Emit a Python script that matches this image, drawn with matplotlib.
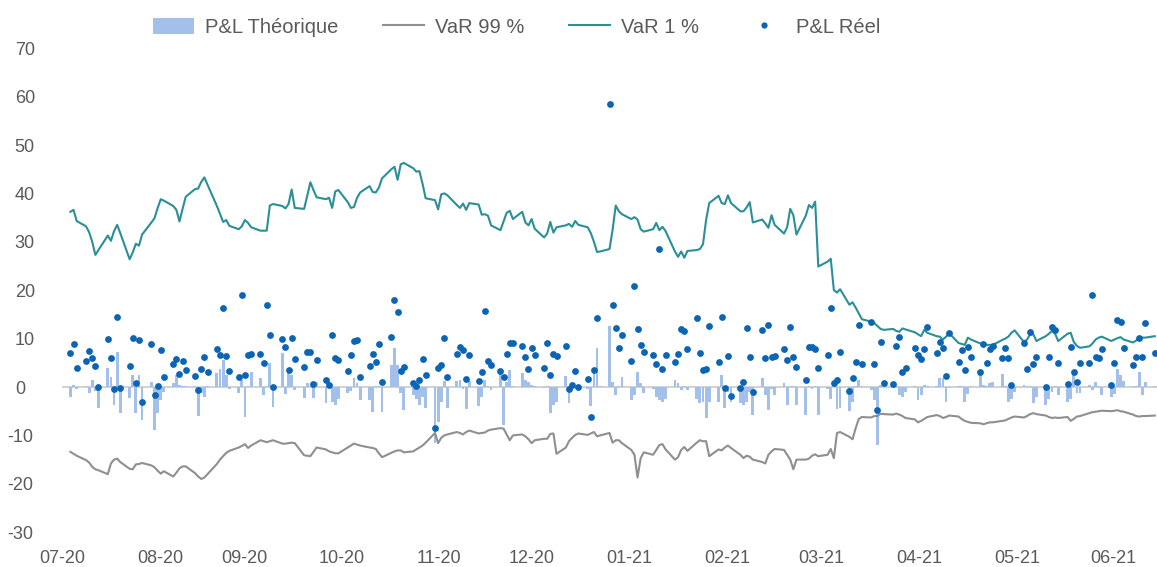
import numpy as np
import pandas as pd
import matplotlib
matplotlib.use("Agg")
import matplotlib.pyplot as plt
import matplotlib.dates as mdates
from matplotlib.lines import Line2D
from matplotlib.patches import Patch
from matplotlib.legend_handler import HandlerLine2D
from matplotlib.transforms import ScaledTranslation

# ---------------- data (business days, 2020-07-01 .. 2021-06-14) ----------------
dates = pd.bdate_range("2020-07-01", "2021-06-14")

var_1 = [
    36.2, 36.6, 34.3,
    33.2, 32.0, 30.0, 27.3, 28.3,
    31.3, 30.2, 32.2, 33.5, 31.8,
    26.4, 27.8, 29.6, 29.2, 31.5,
    34.0, 34.9, 37.0, 38.8, 38.5,
    37.4, 36.6, 34.2, 36.8, 39.3,
    40.9, 41.0, 42.4, 43.3, 41.8,
    37.4, 35.8, 34.1, 34.5, 33.3,
    32.6, 33.2, 34.5, 33.9, 33.0,
    32.3, 32.3, 32.3, 37.5, 37.8,
    37.4, 36.9, 37.8, 40.8, 37.0,
    36.8, 39.5, 42.3, 40.7, 39.2,
    38.8, 39.1, 37.0, 40.4, 40.7,
    38.2, 37.0, 37.2, 39.1, 40.2,
    41.5, 40.3, 40.2, 41.2, 43.1,
    45.0, 45.5, 42.8, 46.0, 46.3,
    45.2, 44.5, 44.6, 42.0, 39.0,
    38.6, 36.7, 39.8, 40.0, 39.6,
    37.6, 37.0, 37.9, 36.6, 38.0,
    37.7, 35.6, 35.7, 35.4, 33.4,
    32.4, 34.2, 36.0, 36.4, 34.7,
    36.2, 34.0, 33.4, 34.7, 32.7,
    30.9, 31.7, 34.1, 31.9, 33.0,
    33.4, 33.7, 33.1, 34.3, 33.5,
    33.0, 31.8, 30.0, 27.9, 28.0,
    28.5, 32.5, 37.5, 36.3, 35.7,
    34.7, 35.1, 34.6, 32.6, 32.1,
    32.6, 33.9, 32.4, 33.1, 32.2,
    28.0, 26.9, 28.0, 26.7, 28.1,
    28.3, 28.5, 29.5, 34.5, 38.0,
    39.5, 38.0, 37.8, 39.6, 38.0,
    36.3, 36.3, 37.1, 38.2, 34.0,
    34.6, 33.8, 32.9, 35.5, 33.5,
    31.7, 33.0, 36.8, 35.5, 31.5,
    35.4, 37.6, 37.0, 38.3, 24.9,
    25.9, 26.5, 20.0, 19.5, 20.2,
    17.0, 17.5, 16.4, 15.2, 14.0,
    13.5, 13.2, 12.6, 12.0, 11.8,
    12.0, 11.6, 11.4, 12.1, 11.9,
    11.3, 10.9, 10.5, 11.8, 11.2,
    10.5, 10.4, 9.8, 10.4, 11.1,
    9.1, 8.9, 8.7, 10.2, 9.8,
    9.0, 8.8, 8.7, 8.7, 8.7,
    9.7, 10.0, 10.4, 11.2, 11.7,
    9.3, 9.8, 10.9, 10.9, 9.5,
    10.5, 11.0, 11.6, 11.0, 9.5,
    11.0, 11.2, 9.3, 8.5, 8.1,
    8.4, 9.0, 9.8, 10.2, 10.4,
    9.5, 9.8, 10.1, 10.3, 9.8,
    9.2, 9.6, 10.0, 10.2, 10.2,
    10.5,
]

var_99 = [
    -13.4, -13.8, -14.2,
    -15.1, -15.6, -16.5, -17.0, -17.2,
    -18.0, -15.8, -15.0, -14.8, -15.5,
    -16.9, -17.0, -16.0, -15.9, -15.7,
    -16.2, -16.6, -17.3, -17.9, -17.4,
    -18.5, -17.7, -16.8, -16.4, -16.4,
    -17.8, -18.5, -19.0, -18.7, -18.0,
    -15.9, -15.0, -14.3, -13.6, -13.2,
    -12.5, -12.2, -11.8, -12.6, -12.1,
    -11.0, -11.2, -11.4, -11.2, -11.0,
    -11.7, -11.7, -11.6, -11.5, -11.6,
    -14.1, -14.2, -14.3, -13.4, -12.5,
    -12.9, -13.3, -13.5, -13.7, -13.7,
    -12.5, -12.1, -11.7, -11.9, -12.1,
    -12.5, -12.6, -12.8, -13.7, -14.5,
    -13.6, -13.3, -13.1, -13.1, -13.5,
    -13.3, -12.9, -12.5, -12.1, -11.5,
    -9.5, -11.6, -10.5, -10.0, -9.8,
    -9.3, -9.5, -9.8, -9.3, -9.0,
    -9.6, -9.5, -9.4, -9.0, -8.8,
    -8.5, -8.6, -9.8, -11.0, -10.0,
    -9.8, -10.2, -10.8, -11.6, -11.0,
    -10.7, -10.7, -9.7, -9.6, -13.8,
    -12.5, -11.2, -10.5, -9.9, -9.6,
    -9.9, -9.6, -9.3, -10.2, -10.0,
    -9.5, -11.5, -11.0, -11.0, -11.6,
    -13.0, -14.0, -18.7, -14.7, -13.5,
    -14.0, -13.0, -12.0, -11.8, -12.9,
    -15.0, -14.5, -13.0, -12.4, -13.2,
    -11.5, -11.0, -11.2, -11.2, -14.3,
    -12.9, -13.1, -12.5, -12.1, -12.6,
    -14.0, -14.7, -14.2, -14.4, -15.0,
    -15.5, -15.8, -14.0, -13.3, -12.8,
    -13.0, -14.0, -15.0, -17.0, -15.0,
    -15.0, -14.8, -14.2, -13.9, -14.3,
    -14.0, -12.8, -14.7, -9.5, -9.3,
    -10.3, -10.8, -8.5, -6.6, -6.2,
    -6.3, -6.0, -6.0, -5.5, -5.6,
    -5.7, -5.5, -5.7, -6.0, -6.4,
    -6.7, -7.3, -7.0, -6.6, -6.2,
    -5.8, -6.0, -6.4, -6.2, -5.9,
    -6.1, -6.6, -7.0, -7.2, -7.4,
    -7.5, -7.7, -7.5, -7.3, -7.3,
    -7.0, -6.9, -6.6, -6.3, -6.1,
    -6.3, -6.0, -5.6, -5.4, -5.6,
    -5.9, -6.2, -6.4, -6.3, -6.4,
    -6.2, -7.0, -6.6, -6.1, -6.0,
    -5.4, -5.2, -5.1, -5.0, -4.9,
    -5.0, -4.9, -4.8, -5.0, -5.1,
    -5.7, -6.0, -6.1, -6.0, -6.0,
    -5.9,
]

pnl_reel = [
    7.1, 8.9, 3.9,
    5.4, 7.4, 6.0, 4.3, 0.0,
    10.0, 5.9, -0.4, 14.4, -0.2,
    4.3, 10.2, 0.8, 9.7, -3.2,
    8.9, -1.7, 0.2, 7.6, 2.0,
    4.7, 5.8, 2.7, 5.4, 3.5,
    2.3, -0.6, 3.7, 6.1, 3.2,
    7.8, 6.6, 16.4, 6.5, 3.4,
    2.0, 19.1, 2.4, 6.7, 6.8,
    6.9, 5.0, 16.9, 10.7, 0.0,
    10.0, 8.3, 3.5, 10.2, 5.8,
    4.2, 7.3, 7.3, 0.6, 5.6,
    1.4, 0.4, 10.8, 5.9, 5.6,
    3.4, 6.7, 9.5, 9.7, 2.0,
    4.3, 6.8, 5.2, 8.9, 1.0,
    10.4, 17.9, 15.4, 3.4, 4.1,
    0.8, 0.2, 1.4, 5.8, 2.5,
    -8.5, 3.9, 4.5, 10.2, 2.1,
    6.9, 8.3, 7.6, 1.6, 6.6,
    1.2, 3.0, 15.6, 5.4, 4.5,
    3.4, 2.1, 6.8, 9.0, 9.0,
    8.4, 6.1, 3.7, 8.0, 6.6,
    3.9, 9.0, 2.5, 6.8, 6.4,
    8.4, -0.5, 0.4, 3.4, 0.0,
    1.6, -6.3, 3.5, 14.2, np.nan,
    58.5, 16.9, 12.2, 8.0, 10.7,
    5.3, 20.9, 11.9, 8.7, 7.3,
    6.7, 4.7, 28.6, 3.8, 6.7,
    5.2, 6.9, 11.9, 11.6, 7.8,
    14.2, 7.1, 3.5, 3.8, 12.7,
    5.2, 14.4, -0.3, 6.4, -1.8,
    -0.2, 1.1, 12.2, 6.1, -1.0,
    11.8, 6.0, 12.9, 6.2, 6.4,
    7.8, 5.6, 12.3, 6.1, 4.2,
    1.4, 8.3, 8.3, 7.8, 4.0,
    6.7, 16.3, 0.8, 1.4, 7.3,
    -0.8, 1.9, 5.2, 12.8, 4.7,
    13.4, 4.7, -4.8, 9.2, 0.8,
    0.6, 8.5, 10.4, 3.0, 3.9,
    8.1, 6.7, 5.7, 7.8, 12.5,
    7.1, 9.2, 8.1, 2.3, 11.1,
    5.2, 7.6, 3.6, 8.3, 6.1,
    3.0, 8.9, 5.0, 7.8, 8.4,
    5.9, 8.0, 5.9, 0.4, np.nan,
    9.0, 3.7, 11.4, 4.7, 6.3,
    0.1, 6.2, 12.5, 11.8, 4.9,
    0.7, 8.3, 3.2, 1.1, 4.9,
    4.9, 19.1, 6.3, 5.9, 7.9,
    0.4, 4.9, 13.8, 13.5, 8.0,
    4.5, 6.3, 10.1, 6.3, 13.2,
    7.0,
]

pnl_theo = [
    -2.0, 0.4, -0.5,
    0.3, -1.3, 1.4, -0.8, -4.4,
    3.9, 2.0, -3.7, 7.3, -5.4,
    -2.3, 2.5, -5.4, 2.5, -6.8,
    1.1, -8.9, -5.4, -2.7, -1.0,
    0.8, 2.5, 0.5, 0.3, 0.2,
    0.3, -6.0, -1.3, -2.0, 0.2,
    2.8, 3.8, 5.6, 2.5, -0.4,
    -1.3, 1.4, -6.1, 0.3, 3.2,
    1.8, -1.7, 0.3, 4.9, -4.1,
    7.0, -1.5, 3.8, 2.5, -0.6,
    -2.3, 0.8, 0.3, -2.3, 1.1,
    -3.4, 1.1, -3.0, -3.7, -2.5,
    -1.3, -0.8, 1.8, 0.8, -2.7,
    -2.7, -5.1, 0.3, 0.2, -5.1,
    4.5, 8.0, 4.5, -1.2, -4.7,
    -1.6, -2.5, -3.7, -2.0, -4.4,
    -11.5, -7.2, -3.0, 1.2, -4.3,
    1.2, 1.4, -0.5, -4.6, 1.2,
    -4.0, -2.0, 1.4, 0.2, -0.6,
    3.6, -7.8, 1.0, 3.5, 0.3,
    2.9, 1.4, 1.0, 0.5, 0.3,
    -0.3, 0.2, -5.4, -3.7, -3.0,
    2.2, -3.4, 0.2, -0.3, 0.2,
    -0.5, -4.0, 3.8, 8.0, 0.3,
    12.6, 1.1, -1.6, 0.2, 2.1,
    -2.6, -1.6, 3.2, 0.8, -1.3,
    -0.5, -2.0, -2.7, -3.0, -2.5,
    1.5, 0.8, -0.6, 0.2, -0.6,
    -2.5, -3.4, -3.0, -6.5, -3.0,
    -3.0, 2.5, -4.4, -1.0, -3.0,
    -3.4, -3.7, -3.0, -1.0, -5.8,
    1.8, -1.6, -4.8, -0.5, -1.6,
    0.8, -3.7, 0.3, 0.2, -3.7,
    -5.7, 0.3, -0.5, 0.2, -5.7,
    -0.5, -2.5, 1.0, -4.6, -4.3,
    -5.0, -3.0, 0.2, 1.5, 0.3,
    -0.6, -2.7, -11.9, 0.5, 0.2,
    0.2, 0.3, -1.6, -2.1, -1.0,
    0.2, -2.7, -1.6, 0.4, 0.3,
    0.2, 1.9, 1.8, -3.0, -0.3,
    0.2, 0.3, -3.0, -1.5, 0.2,
    3.2, 0.5, 0.2, 0.8, 1.1,
    2.7, 0.3, -3.0, -2.5, -1.0,
    0.4, 0.2, 0.3, -3.4, -2.0,
    -3.7, -2.5, -1.0, 0.3, -1.6,
    -3.0, -2.5, 3.2, -1.3, -1.3,
    0.4, -0.6, 1.1, 0.2, -1.7,
    -2.0, -1.5, 3.8, 2.5, 1.2,
    0.2, 0.3, 3.2, -1.6, 1.1,
    0.3,
]

month_labels = ["07-20", "08-20", "09-20", "10-20", "11-20", "12-20",
                "01-21", "02-21", "03-21", "04-21", "05-21", "06-21"]
y_ticks = [-30, -20, -10, 0, 10, 20, 30, 40, 50, 60, 70]
legend_labels = ["P&L Théorique", "VaR 99 %", "VaR 1 %", "P&L Réel"]

# ---------------- styling ----------------
BAR_C = "#a3c0ea"
GREY_C = "#8f8f8f"
TEAL_C = "#2b8f96"
DOT_C = "#0b64b4"
TXT_C = "#5a5a5a"
ZERO_C = "#cfcfcf"

plt.rcParams["font.family"] = ["Liberation Sans", "DejaVu Sans"]

W, H = 1157, 567
fig = plt.figure(figsize=(W / 100, H / 100), dpi=100)
ax_left, ax_right, ax_top, ax_bot = 62, 1157, 48.2, 532.2
ax = fig.add_axes([ax_left / W, 1 - ax_bot / H, (ax_right - ax_left) / W, (ax_bot - ax_top) / H])

x = mdates.date2num(dates)
x0 = mdates.date2num(pd.Timestamp("2020-07-01"))

ax.axhline(0, color=ZERO_C, lw=1.3, zorder=1)
ax.bar(x, pnl_theo, width=0.9, color=BAR_C, zorder=2, linewidth=0)
ax.plot(x, var_99, color=GREY_C, lw=1.5, zorder=3)
ax.plot(x, var_1, color=TEAL_C, lw=1.5, zorder=4)
ax.scatter(x, pnl_reel, s=24, color=DOT_C, linewidths=0, zorder=5)

ax.set_ylim(-30, 70)
ax.set_xlim(x0 - 2.7, x0 + 348.7)

for s in ax.spines.values():
    s.set_visible(False)

# month label positions (layout, in days from 2020-07-01)
label_pos = [-2.6, 28.9, 55.8, 86.9, 118.4, 147.9, 179.3, 210.8, 240.9, 272.4, 303.8, 334.6]
ax.set_xticks([x0 + p for p in label_pos])
ax.set_xticklabels(month_labels)
ax.set_yticks(y_ticks)
ax.set_yticklabels([str(v) for v in y_ticks])
ax.tick_params(axis="x", length=0, pad=13, labelsize=13, labelcolor=TXT_C)
ax.tick_params(axis="y", length=0, pad=34, labelsize=13, labelcolor=TXT_C)
for lab in ax.get_yticklabels():
    lab.set_horizontalalignment("left")
    if lab.get_text().startswith("-"):
        lab.set_transform(lab.get_transform() + ScaledTranslation(-8 / 100, 0, fig.dpi_scale_trans))


class RightMarker(HandlerLine2D):
    def get_xdata(self, legend, xdescent, ydescent, width, height, fontsize):
        xdata, _ = super().get_xdata(legend, xdescent, ydescent, width, height, fontsize)
        return xdata, np.array([-xdescent + 0.62 * width])


h_bar = Patch(facecolor=BAR_C, edgecolor="none")
h_grey = Line2D([], [], color=GREY_C, lw=1.5)
h_teal = Line2D([], [], color=TEAL_C, lw=1.5)
h_dot = Line2D([], [], color=DOT_C, marker="o", ls="none", markersize=4.5, markeredgewidth=0)
leg = fig.legend([h_bar, h_grey, h_teal, h_dot], legend_labels,
                 loc="center left", bbox_to_anchor=(153 / W, 1 - 27.5 / H),
                 bbox_transform=fig.transFigure, ncol=4, frameon=False,
                 fontsize=14.5, handlelength=2.05, handleheight=0.85,
                 handletextpad=0.55, columnspacing=2.2, borderpad=0, borderaxespad=0,
                 handler_map={h_dot: RightMarker(numpoints=1)})
for t in leg.get_texts():
    t.set_color(TXT_C)

fig.savefig("out.png", dpi=100)
